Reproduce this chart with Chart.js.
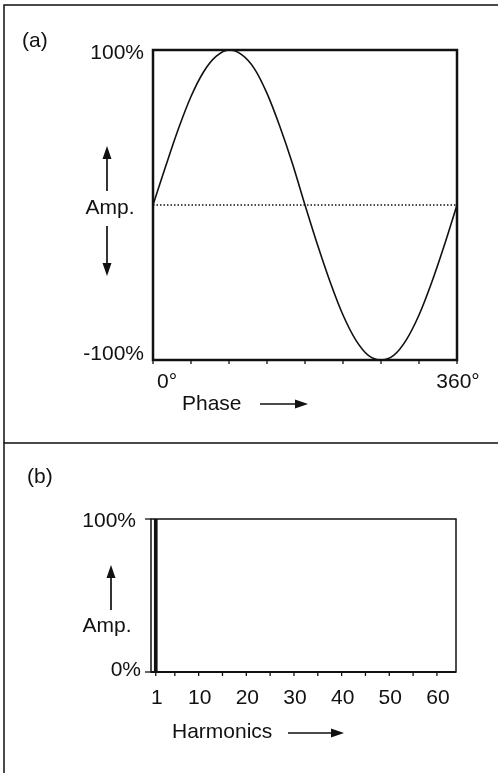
<!DOCTYPE html>
<html>
<head>
<meta charset="utf-8">
<script src="https://cdn.jsdelivr.net/npm/chart.js@4.4.0/dist/chart.umd.min.js"></script>
<style>
html, body { margin: 0; padding: 0; background: #fff; }
#wrap { position: relative; width: 498px; height: 773px; overflow: hidden; }
#wave { position: absolute; left: 0; top: 0; }
#spectrum { position: absolute; left: 0; top: 441px; }
</style>
</head>
<body>
<div id="wrap">
	<canvas id="wave" width="498" height="443"></canvas>
	<canvas id="spectrum" width="498" height="332"></canvas>
</div>
<script>
// (a) waveform, every 15 degrees
const phase = [0, 15, 30, 45, 60, 75, 90, 105, 120, 135, 150, 165, 180,
	195, 210, 225, 240, 255, 270, 285, 300, 315, 330, 345, 360];
const amplitude = [0, 25, 49, 70, 86, 96, 100, 97, 88, 72, 51, 27, 0,
	-26, -50, -71, -87, -97, -100, -97, -87, -71, -50, -26, 0];
const phaseTicks = [0, 45, 90, 135, 180, 225, 270, 315, 360];
const phaseLabels = ['0°', '360°'];
const waveAmpLabels = ['100%', '-100%'];

// (b) spectrum
const harmonics = [1];
const harmonicAmp = [100];
const harmonicTicks = [1, 5, 10, 15, 20, 25, 30, 35, 40, 45, 50, 55, 60];
const harmonicLabelValues = [1, 10, 20, 30, 40, 50, 60];
const specAmpLabels = ['100%', '0%'];

const FONT = "21px 'Liberation Sans', Arial, Helvetica, sans-serif";
const INK = '#111';

function arrow(ctx, x1, y1, x2, y2) {
	const a = Math.atan2(y2 - y1, x2 - x1);
	const len = 13, half = 4.5;
	ctx.beginPath();
	ctx.moveTo(x1, y1);
	ctx.lineTo(x2 - Math.cos(a) * len * 0.8, y2 - Math.sin(a) * len * 0.8);
	ctx.lineWidth = 1.7;
	ctx.stroke();
	ctx.beginPath();
	ctx.moveTo(x2, y2);
	ctx.lineTo(x2 - Math.cos(a) * len - Math.sin(a) * half, y2 - Math.sin(a) * len + Math.cos(a) * half);
	ctx.lineTo(x2 - Math.cos(a) * len + Math.sin(a) * half, y2 - Math.sin(a) * len - Math.cos(a) * half);
	ctx.closePath();
	ctx.fill();
}

function text(ctx, str, x, y, align) {
	ctx.textAlign = align;
	ctx.textBaseline = 'middle';
	ctx.fillText(str, x, y);
}

const wavePlugin = {
	id: 'waveDecor',
	afterDraw(chart) {
		const ctx = chart.ctx;
		const area = chart.chartArea;
		const xs = chart.scales.x, ys = chart.scales.y;
		ctx.save();
		ctx.strokeStyle = INK;
		ctx.fillStyle = INK;
		ctx.lineCap = 'butt';

		// outer frame
		ctx.lineWidth = 1.5;
		ctx.beginPath();
		ctx.moveTo(4, 443);
		ctx.lineTo(4, 5);
		ctx.lineTo(498, 5);
		ctx.stroke();

		// plot box
		ctx.lineWidth = 2.5;
		ctx.strokeRect(area.left, area.top, area.right - area.left, area.bottom - area.top);

		// ticks
		ctx.lineWidth = 1.3;
		phaseTicks.forEach(v => {
			const px = xs.getPixelForValue(v);
			ctx.beginPath();
			ctx.moveTo(px, area.bottom);
			ctx.lineTo(px, area.bottom + 4);
			ctx.stroke();
		});

		ctx.font = FONT;
		text(ctx, '(a)', 22, 41, 'left');
		text(ctx, waveAmpLabels[0], 144, ys.getPixelForValue(100) + 3, 'right');
		text(ctx, waveAmpLabels[1], 144, ys.getPixelForValue(-100) - 6, 'right');
		text(ctx, phaseLabels[0], xs.getPixelForValue(0) + 4, 382, 'left');
		text(ctx, phaseLabels[1], xs.getPixelForValue(360) + 1, 382, 'center');
		text(ctx, 'Amp.', 110, 208, 'center');
		text(ctx, 'Phase', 182, 404, 'left');

		arrow(ctx, 107, 191, 107, 146);
		arrow(ctx, 107, 226, 107, 276);
		arrow(ctx, 260, 404, 308, 404);
		ctx.restore();
	}
};

const specPlugin = {
	id: 'specDecor',
	afterDraw(chart) {
		const ctx = chart.ctx;
		const area = chart.chartArea;
		const xs = chart.scales.x, ys = chart.scales.y;
		ctx.save();
		ctx.strokeStyle = INK;
		ctx.fillStyle = INK;

		// outer frame: left edge and divider
		ctx.lineWidth = 1.5;
		ctx.beginPath();
		ctx.moveTo(4, 332);
		ctx.lineTo(4, 2);
		ctx.lineTo(498, 2);
		ctx.stroke();

		// plot box
		ctx.lineWidth = 1.5;
		ctx.strokeRect(area.left, area.top, area.right - area.left, area.bottom - area.top);
		ctx.lineWidth = 2;
		ctx.beginPath();
		ctx.moveTo(area.left, area.bottom);
		ctx.lineTo(area.right, area.bottom);
		ctx.stroke();

		// ticks
		ctx.lineWidth = 1.3;
		harmonicTicks.forEach(v => {
			const px = xs.getPixelForValue(v);
			ctx.beginPath();
			ctx.moveTo(px, area.bottom);
			ctx.lineTo(px, area.bottom + 4);
			ctx.stroke();
		});
		[100, 0].forEach(v => {
			const py = ys.getPixelForValue(v);
			ctx.beginPath();
			ctx.moveTo(area.left - 6, py);
			ctx.lineTo(area.left, py);
			ctx.stroke();
		});

		ctx.font = FONT;
		text(ctx, '(b)', 27, 36, 'left');
		text(ctx, specAmpLabels[0], 136, ys.getPixelForValue(100) + 2, 'right');
		text(ctx, specAmpLabels[1], 141, ys.getPixelForValue(0) - 2, 'right');
		harmonicLabelValues.forEach(v => {
			text(ctx, String(v), xs.getPixelForValue(v) + 1, 257, 'center');
		});
		text(ctx, 'Amp.', 107, 185, 'center');
		text(ctx, 'Harmonics', 172, 291, 'left');

		arrow(ctx, 111, 169, 111, 124);
		arrow(ctx, 288, 292, 344, 292);
		ctx.restore();
	}
};

new Chart(document.getElementById('wave').getContext('2d'), {
	type: 'line',
	data: {
		datasets: [{
			data: phase.map((p, i) => ({ x: p, y: amplitude[i] })),
			borderColor: INK,
			borderWidth: 1.6,
			pointRadius: 0,
			cubicInterpolationMode: 'monotone'
		}, {
			data: [{ x: phase[0], y: 0 }, { x: phase[phase.length - 1], y: 0 }],
			borderColor: INK,
			borderWidth: 1.5,
			borderDash: [1.5, 2],
			pointRadius: 0
		}]
	},
	options: {
		responsive: false,
		animation: false,
		devicePixelRatio: 1,
		layout: { padding: { left: 153, top: 50, right: 41, bottom: 83 } },
		plugins: { legend: { display: false }, tooltip: { enabled: false } },
		scales: {
			x: { type: 'linear', min: 0, max: 360, display: false },
			y: { type: 'linear', min: -100, max: 100, display: false }
		}
	},
	plugins: [wavePlugin]
});

new Chart(document.getElementById('spectrum').getContext('2d'), {
	type: 'bar',
	data: {
		datasets: [{
			data: harmonics.map((h, i) => ({ x: h, y: harmonicAmp[i] })),
			backgroundColor: INK,
			borderWidth: 0,
			barThickness: 3
		}]
	},
	options: {
		responsive: false,
		animation: false,
		devicePixelRatio: 1,
		layout: { padding: { left: 151, top: 78, right: 42, bottom: 101 } },
		plugins: { legend: { display: false }, tooltip: { enabled: false } },
		scales: {
			x: { type: 'linear', min: 0, max: 64, offset: false, display: false },
			y: { type: 'linear', min: 0, max: 100, display: false }
		}
	},
	plugins: [specPlugin]
});
</script>
</body>
</html>
